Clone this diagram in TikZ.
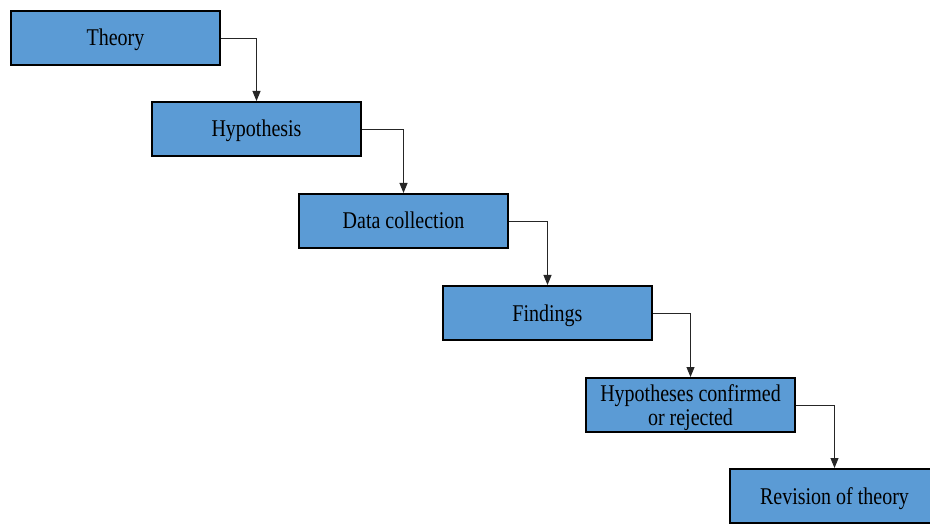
\documentclass[tikz,border=0pt]{standalone}
\usepackage{fontspec}
\setmainfont{Liberation Serif}
\usetikzlibrary{arrows.meta}
\definecolor{boxblue}{HTML}{5B9BD5}
% slightly tall lettering with a fixed line box so that labels sit centred
\newcommand{\tall}[1]{\raisebox{0pt}[20bp][4bp]{\scalebox{1}[1.2]{#1}}}
\begin{document}
\begin{tikzpicture}[x=1bp,y=-1bp,
  stage/.style={draw=black, line width=2bp, fill=boxblue, rectangle,
    minimum width=209bp, minimum height=54bp, inner sep=0pt,
    align=center, font=\fontsize{20bp}{24bp}\selectfont},
  link/.style={draw=black!85, line width=0.9bp,
    -{Triangle[length=10bp,width=8bp]}}]
  \useasboundingbox (0,0) rectangle (930,525);
  \clip (0,0) rectangle (930,525);
  \node[stage] (theory) at (115.5,38) {\tall{Theory}};
  \node[stage] (hyp)    at (256.5,129) {\tall{Hypothesis}};
  \node[stage] (data)   at (403.5,221) {\tall{Data collection}};
  \node[stage] (find)   at (547.5,313) {\tall{Findings}};
  \node[stage] (conf)   at (690.5,405) {\tall{Hypotheses confirmed}\\\tall{or rejected}};
  \node[stage] (rev)    at (834.5,496) {\tall{Revision of theory}};
  \draw[link] (theory.east) -| (hyp.north);
  \draw[link] (hyp.east) -| (data.north);
  \draw[link] (data.east) -| (find.north);
  \draw[link] (find.east) -| (conf.north);
  \draw[link] (conf.east) -| (rev.north);
\end{tikzpicture}
\end{document}
